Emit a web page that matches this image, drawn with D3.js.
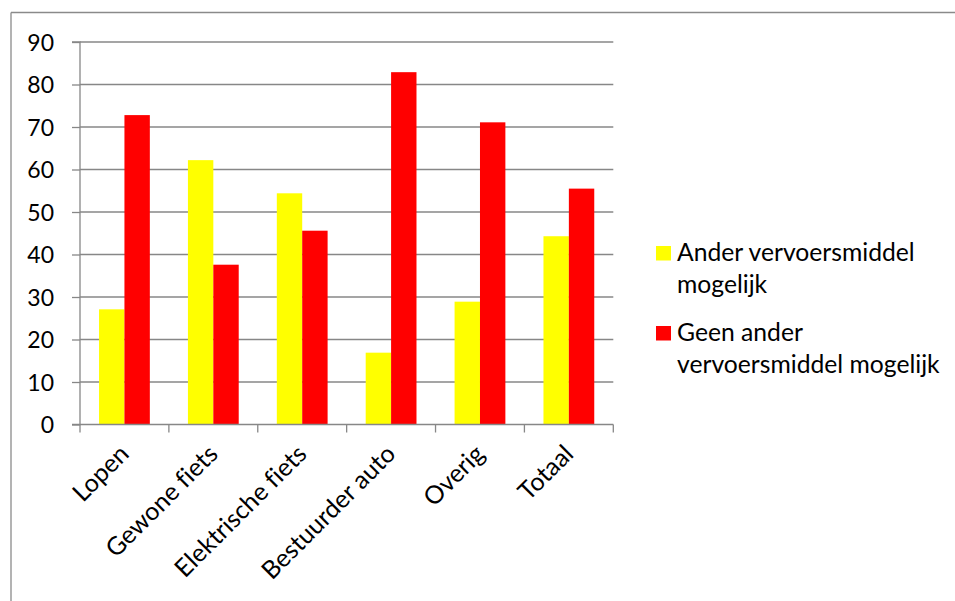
<!DOCTYPE html>
<html><head><meta charset="utf-8">
<script src="https://cdn.jsdelivr.net/npm/d3@7"></script>
<style>body{margin:0;background:#fff}svg{display:block}text{font-family:Lato,"Open Sans",sans-serif;fill:#000;font-variant-ligatures:none;font-feature-settings:"liga" 0,"clig" 0}</style>
</head><body><svg id="c" width="955" height="601"></svg>
<script>
const categories = ["Lopen","Gewone fiets","Elektrische fiets","Bestuurder auto","Overig","Totaal"];
const seriesNames = ["Ander vervoersmiddel mogelijk","Geen ander vervoersmiddel mogelijk"];
const anderValues = [27.1, 62.2, 54.4, 16.9, 28.9, 44.3];
const geenValues = [72.8, 37.6, 45.6, 82.9, 71.1, 55.5];
const yTicks = [0,10,20,30,40,50,60,70,80,90];
const colors = ["#FFFF00","#FF0000"];
const legendLines = [["Ander vervoersmiddel","mogelijk"],["Geen ander","vervoersmiddel mogelijk"]];

const svg = d3.select("#c");
const L = 80, R = 613.3, T = 42, B = 424.5;
const grid = "#878787";

svg.append("line").attr("x1",11).attr("x2",955).attr("y1",12.5).attr("y2",12.5).attr("stroke","#8a8a8a").attr("stroke-width",1.3);
svg.append("line").attr("x1",11).attr("x2",11).attr("y1",12.5).attr("y2",601).attr("stroke","#8a8a8a").attr("stroke-width",1.3);

const x = d3.scaleBand().domain(categories).range([L,R]).paddingInner(0).paddingOuter(0);
const y = d3.scaleLinear().domain([0,90]).range([B,T]);
const bw = x.bandwidth()/3.5;
const xs = d3.scaleBand().domain([0,1]).range([0.75*bw, 2.75*bw]);

svg.append("g").selectAll("line").data(yTicks.filter(d=>d>0)).join("line")
  .attr("x1",L).attr("x2",R).attr("y1",d=>y(d)).attr("y2",d=>y(d))
  .attr("stroke",grid).attr("stroke-width",1.3);

const data = categories.map((c,i)=>({c, v:[anderValues[i], geenValues[i]]}));
svg.append("g").selectAll("g").data(data).join("g").attr("transform",d=>`translate(${x(d.c)},0)`)
  .selectAll("rect").data(d=>d.v.map((v,k)=>({v,k}))).join("rect")
  .attr("x",d=>xs(d.k)).attr("width",bw)
  .attr("y",d=>y(d.v)).attr("height",d=>y(0)-y(d.v))
  .attr("fill",d=>colors[d.k]);

const ya = d3.axisLeft(y).tickValues(yTicks).tickSize(8).tickPadding(18).tickFormat(d3.format("d"));
const yg = svg.append("g").attr("transform",`translate(${L},0)`).call(ya);
yg.select(".domain").attr("stroke",grid).attr("stroke-width",1.3).attr("d",`M-8,${T}H0V${B}H-8`);
yg.selectAll(".tick line").attr("stroke",grid).attr("stroke-width",1.3);
yg.selectAll(".tick text").attr("font-size",23).attr("dy","0.36em").style("font-family","Lato,'Open Sans',sans-serif");

const xa = d3.axisBottom(x).tickSize(0).tickFormat("");
const xg = svg.append("g").attr("transform",`translate(0,${B})`).call(xa);
xg.select(".domain").attr("stroke",grid).attr("stroke-width",1.3).attr("d",`M${L},0H${R}`);
const tickPos = categories.map(c=>x(c)).concat([R]);
xg.append("g").selectAll("line").data(tickPos).join("line")
  .attr("x1",d=>d).attr("x2",d=>d).attr("y1",0).attr("y2",8).attr("stroke",grid).attr("stroke-width",1.3);
xg.append("g").selectAll("text").data(categories).join("text")
  .attr("transform",d=>`translate(${x(d)+x.bandwidth()/2+6},${31}) rotate(-45)`)
  .attr("text-anchor","end").attr("font-size",25).text(d=>d);

const lg = svg.append("g");
const lyStart = [260.5, 340.5];
legendLines.forEach((lines,i)=>{
  lg.append("rect").attr("x",656).attr("y",lyStart[i]-14.5).attr("width",15).attr("height",14.5).attr("fill",colors[i]);
  const t = lg.append("text").attr("x",677).attr("y",lyStart[i]).attr("font-size",24.7);
  lines.forEach((s,j)=>t.append("tspan").attr("x",677).attr("dy",j?32.5:0).text(s));
});
</script></body></html>
